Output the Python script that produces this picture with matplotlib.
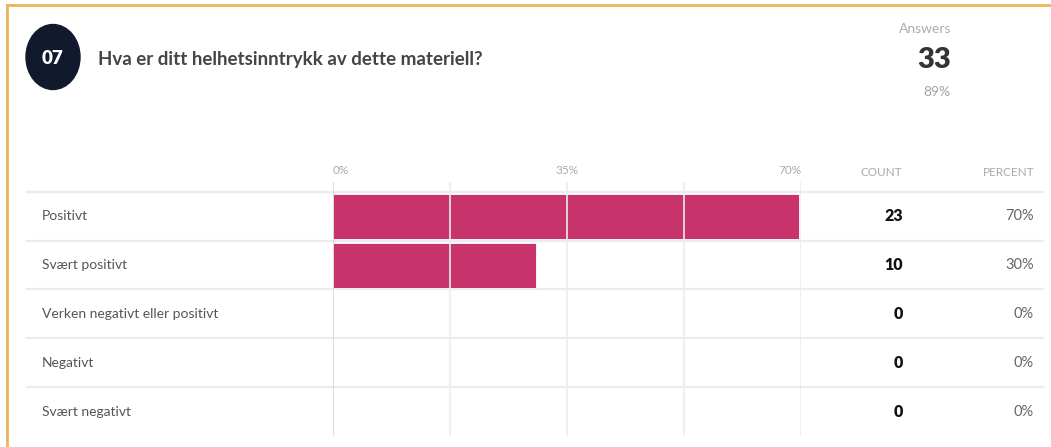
import matplotlib.pyplot as plt
from matplotlib.patches import Ellipse
from matplotlib.lines import Line2D
import matplotlib.transforms as mtransforms

plt.rcParams['font.family'] = ['DejaVu Sans Condensed', 'Lato', 'DejaVu Sans']

# data
question_no = "07"
question = "Hva er ditt helhetsinntrykk av dette materiell?"
answers = 33
answer_rate = "89%"
categories = ["Positivt", "Svært positivt", "Verken negativt eller positivt",
              "Negativt", "Svært negativt"]
counts = [23, 10, 0, 0, 0]
percents = [c / answers * 100 for c in counts]
tick_vals = [0, 35, 70]
tick_labels = ["0%", "35%", "70%"]

W, H = 1051, 447
fig = plt.figure(figsize=(W / 100, H / 100), dpi=100)


def fx(x):
    return x / W


def fy(y):
    return 1 - y / H


# orange frame (top + left)
border = "#f0b457"
fig.add_artist(Line2D([fx(7), 1], [fy(5), fy(5)], color=border, lw=2))
fig.add_artist(Line2D([fx(7), fx(7)], [fy(5), 0], color=border, lw=2))

# header
fig.add_artist(Ellipse((fx(53), fy(57)), 54 / W, 65 / H, color="#111a2c"))
fig.text(fx(52), fy(58), question_no, color="white", fontsize=13.5,
         fontweight="heavy", ha="center", va="center")
fig.text(fx(98), fy(60), question, color="#454545", fontsize=13.5,
         fontweight="bold", ha="left", va="center")
fig.text(fx(951), fy(29), "Answers", color="#a9adb5", fontsize=10,
         ha="right", va="center")
fig.text(fx(951), fy(60), str(answers), color="#333333", fontsize=21,
         fontweight="heavy", ha="right", va="center")
fig.text(fx(950), fy(92), answer_rate, color="#a0a4aa", fontsize=10,
         ha="right", va="center")

# bar area: 0% at x=333px, 70% at x=801px, rows from y=192 to 436
left_px, right_px = 333, 801
top_px, bottom_px = 182, 436
ax = fig.add_axes([fx(left_px), fy(bottom_px),
                   (right_px - left_px) / W, (bottom_px - top_px) / H])
n = len(categories)
ax.set_xlim(0, 70)
ax.set_ylim(n, -0.2)
for s in ax.spines.values():
    s.set_visible(False)
ax.set_yticks([])
ax.xaxis.tick_top()
ax.set_xticks(tick_vals)
ax.set_xticklabels(tick_labels)
ax.tick_params(axis="x", length=0, pad=4, labelsize=8.5, labelcolor="#a9a9a9")
for lab, ha in zip(ax.get_xticklabels(), ["left", "center", "right"]):
    lab.set_ha(ha)

ys = list(range(n))
ax.barh([y + 0.5 for y in ys], percents, height=0.92, color="#c8336c",
        edgecolor="white", linewidth=0.6, zorder=2)

# grid
ax.vlines(0, -0.2, n, color="#d6d6d6", lw=1.2, zorder=3)
ax.vlines([17.5, 35, 52.5, 70], -0.2, n, color="#ececec", lw=1.2, zorder=3)
xmin = (27 - left_px) / (right_px - left_px)
xmax = (1043 - left_px) / (right_px - left_px)
for y in ys:
    ax.axhline(y, xmin=xmin, xmax=xmax, color="#ececec", lw=1.6,
               clip_on=False, zorder=1)

# column headers and row text
trans = mtransforms.blended_transform_factory(fig.transFigure, ax.transData)
fig.text(fx(902), fy(172), "COUNT", color="#a9a9a9", fontsize=8.5,
         ha="right", va="center")
fig.text(fx(1034), fy(172), "PERCENT", color="#a9a9a9", fontsize=8.5,
         ha="right", va="center")
for y, cat, c, p in zip(ys, categories, counts, percents):
    ax.text(fx(42), y + 0.5, cat, transform=trans, color="#555555",
            fontsize=10, ha="left", va="center")
    ax.text(fx(903), y + 0.5, str(c), transform=trans, color="#111111",
            fontsize=11.5, fontweight="heavy", ha="right", va="center")
    ax.text(fx(1034), y + 0.5, f"{p:.0f}%", transform=trans, color="#666666",
            fontsize=10.5, ha="right", va="center")

fig.savefig("out.png", dpi=100)
